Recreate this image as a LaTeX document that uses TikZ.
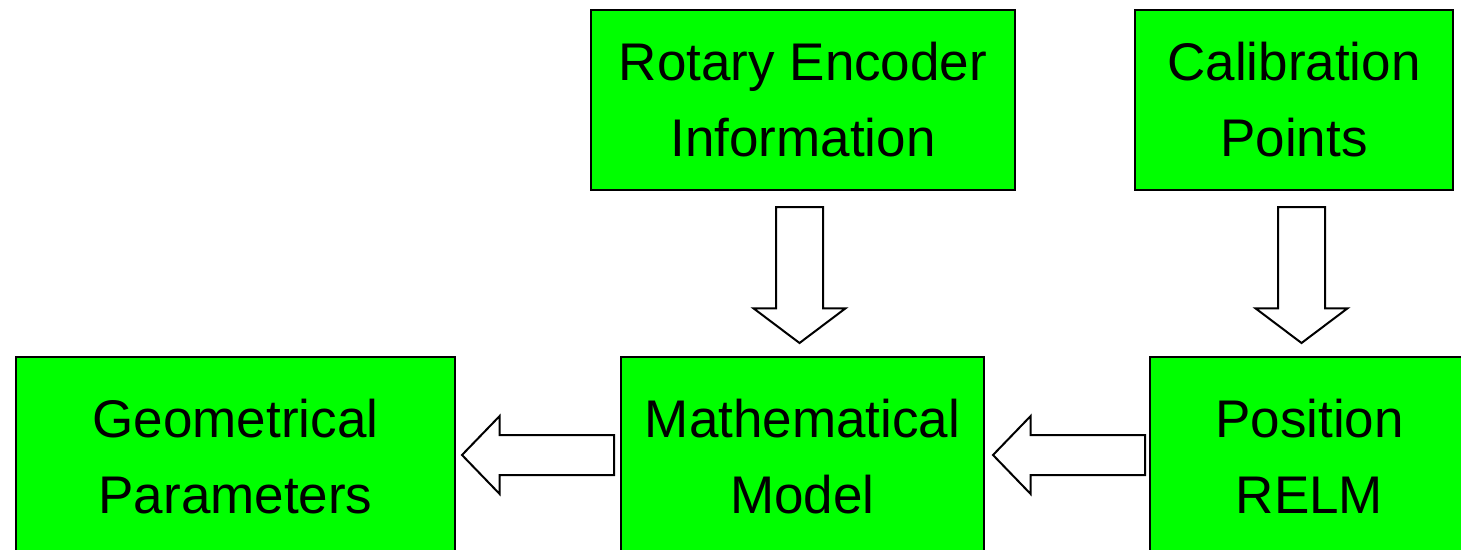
\documentclass[tikz,border=0pt]{standalone}
\usepackage{fontspec}
\setmainfont{Liberation Sans}
\usetikzlibrary{shapes.arrows}
\definecolor{boxgreen}{RGB}{0,255,0}
\tikzset{
  block/.style={draw=black, line width=2pt, fill=boxgreen, inner sep=0pt,
    align=center, font=\fontsize{53}{76}\selectfont},
  downarrow/.style={single arrow, draw=black, line width=2pt, fill=white,
    shape border rotate=270, inner xsep=22.5pt, inner ysep=0pt,
    single arrow head extend=22.5pt, single arrow tip angle=106,
    minimum height=136pt, anchor=tail},
  leftarrow/.style={single arrow, draw=black, line width=2pt, fill=white,
    shape border rotate=180, inner xsep=0pt, inner ysep=19pt,
    single arrow head extend=19pt, single arrow tip angle=92,
    minimum height=152pt, anchor=tail},
}
\begin{document}
\begin{tikzpicture}[x=1pt, y=-1pt]
  \useasboundingbox (0,0) rectangle (1461,549);
  \fill[white] (0,0) rectangle (1461,549);
  \clip (0,0) rectangle (1461,549);

  % upper row
  \node[block, minimum width=424pt, minimum height=180pt] (rot) at (803,100)
    {Rotary Encoder\\Information};
  \node[block, minimum width=318pt, minimum height=180pt] (cal) at (1294,100)
    {Calibration\\Points};

  % lower row
  \node[block, minimum width=439pt, minimum height=199pt] (geo) at (235.5,456.5)
    {Geometrical\\Parameters};
  \node[block, minimum width=363pt, minimum height=199pt] (math) at (802.5,456.5)
    {Mathematical\\Model};
  \node[block, minimum width=319pt, minimum height=199pt] (pos) at (1309.5,456.5)
    {Position\\RELM};

  % block arrows
  \node[downarrow] (a1) at (799.5,206) {};
  \node[downarrow] (a2) at (1301.5,206) {};
  \node[leftarrow] (a3) at (615,455) {};
  \node[leftarrow] (a4) at (1146,455) {};
\end{tikzpicture}
\end{document}
